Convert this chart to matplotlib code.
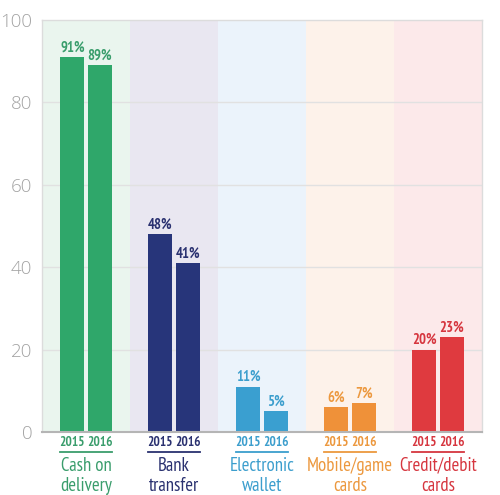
import matplotlib
matplotlib.use("Agg")
import matplotlib.pyplot as plt

categories = ["Cash on\ndelivery", "Bank\ntransfer", "Electronic\nwallet", "Mobile/game\ncards", "Credit/debit\ncards"]
years = ["2015", "2016"]
values_2015 = [91, 48, 11, 6, 20]
values_2016 = [89, 41, 5, 7, 23]
yticks = [0, 20, 40, 60, 80, 100]

bar_colors = ["#2fa76a", "#27357a", "#3a9fd0", "#ef9139", "#df3a3f"]
text_colors = ["#3a9d6c", "#2a3170", "#3c9ecd", "#ec983e", "#d6363f"]
panel_colors = ["#eaf5ee", "#e9e7f1", "#ebf3fb", "#fdf2ea", "#fce9ea"]

nfam = ["PT Sans Narrow", "DejaVu Sans"]

fig = plt.figure(figsize=(5.0, 4.95), dpi=100)
ax = fig.add_axes([0.084, 0.1273, 0.88, 0.8323])

n = len(categories)
w = 0.27
off = 0.155
for i in range(n):
    ax.axvspan(i, i + 1, color=panel_colors[i], zorder=0, lw=0)
for y in yticks[1:-1]:
    ax.axhline(y, color="#e1e1e1", lw=1.0, zorder=1)

for i in range(n):
    c = i + 0.5
    for j, v in enumerate([values_2015[i], values_2016[i]]):
        x = c - off if j == 0 else c + off
        ax.bar(x, v, width=w, color=bar_colors[i], zorder=2)
        ax.text(x, v + 0.6, f"{v}%", ha="center", va="bottom", color=text_colors[i],
                fontsize=10.5, fontweight="bold", family=nfam, zorder=3)
        ax.text(x, -0.9, years[j], ha="center", va="top", color=text_colors[i],
                fontsize=9.5, fontweight="bold", family=nfam, clip_on=False)
    ax.plot([c - off - w / 2, c + off + w / 2], [-4.85, -4.85], color=text_colors[i],
            lw=1.3, clip_on=False)
    ax.text(c, -6.0, categories[i], ha="center", va="top", color=text_colors[i],
            fontsize=13.5, family=nfam, linespacing=1.15, clip_on=False)

ax.set_xlim(0, n)
ax.set_ylim(0, 100)
ax.set_xticks([])
ax.set_yticks(yticks)
ax.tick_params(axis="y", length=0, pad=7, labelsize=13.5, labelcolor="#a3a3a3")
for lbl in ax.get_yticklabels():
    lbl.set_family(["Open Sans", "DejaVu Sans"])
    lbl.set_fontweight("light")
for s in ["top", "right", "left"]:
    ax.spines[s].set_color("#dcdcdc")
    ax.spines[s].set_linewidth(1.0)
ax.spines["bottom"].set_color("#b5b5b5")
ax.spines["bottom"].set_linewidth(1.5)

fig.savefig("out.png", dpi=100, facecolor="white")
